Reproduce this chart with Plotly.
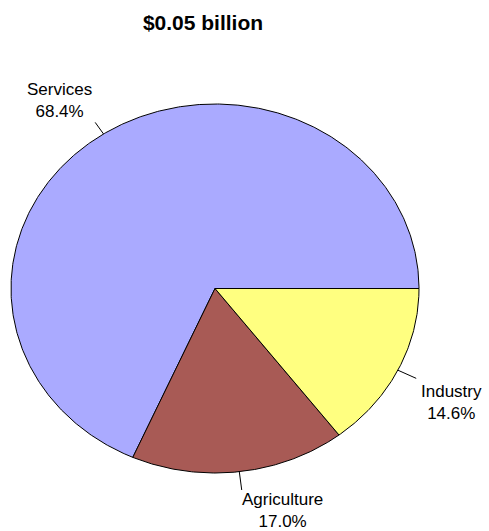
import numpy as np
import plotly.graph_objects as go

# Sector shares of GDP
sectors = ["Services", "Agriculture", "Industry"]
shares = [68.4, 17.0, 14.6]
colors = ["#AAAAFF", "#A85A55", "#FFFF80"]
title_text = "$0.05 billion"

W, H = 489, 531
# pie ellipse: centre and radii in pixels
CX, CY, RX, RY = 215, 288.5, 204, 184.5

fig = go.Figure()

total = sum(shares)
start = 0.0
mids = []
for name, val, col in zip(sectors, shares, colors):
    span = 360.0 * val / total
    ang = np.radians(np.linspace(start, start + span, max(int(span * 2), 8)))
    xs = np.concatenate([[0.0], np.cos(ang), [0.0]])
    ys = np.concatenate([[0.0], np.sin(ang), [0.0]])
    fig.add_trace(go.Scatter(
        x=xs, y=ys, mode="lines", fill="toself", fillcolor=col,
        line=dict(color="black", width=1), hoverinfo="skip", showlegend=False,
    ))
    mids.append(np.radians(start + span / 2))
    start += span

# leader lines and labels
label_style = {
    "Services": dict(xanchor="right", yanchor="bottom", xshift=-1, yshift=-1),
    "Industry": dict(xanchor="left", yanchor="top", xshift=3, yshift=-2),
    "Agriculture": dict(xanchor="left", yanchor="top", xshift=-2, yshift=2),
}
lead = {"Services": 1.075, "Industry": 1.1, "Agriculture": 1.1}
for name, val, m in zip(sectors, shares, mids):
    c, s = np.cos(m), np.sin(m)
    r = lead[name]
    fig.add_trace(go.Scatter(
        x=[c, c * r], y=[s, s * r], mode="lines",
        line=dict(color="black", width=1), hoverinfo="skip", showlegend=False,
    ))
    fig.add_annotation(
        x=c * r, y=s * r, text=f"{name}<br>{val:.1f}%", showarrow=False,
        align="center", font=dict(family="Liberation Sans, Arial", size=17, color="black"),
        **label_style[name],
    )

fig.update_layout(
    width=W, height=H,
    margin=dict(l=0, r=0, t=0, b=0),
    paper_bgcolor="white", plot_bgcolor="white",
    xaxis=dict(range=[(0 - CX) / RX, (W - CX) / RX], domain=[0, 1],
               visible=False, fixedrange=True),
    yaxis=dict(range=[(CY - H) / RY, CY / RY], domain=[0, 1],
               visible=False, fixedrange=True),
    title=dict(text=f"<b>{title_text}</b>", x=203 / W, xanchor="center",
               y=1 - 23 / H, yanchor="middle",
               font=dict(family="Liberation Sans, Arial", size=21, color="black")),
)

fig.write_html("out.html")
